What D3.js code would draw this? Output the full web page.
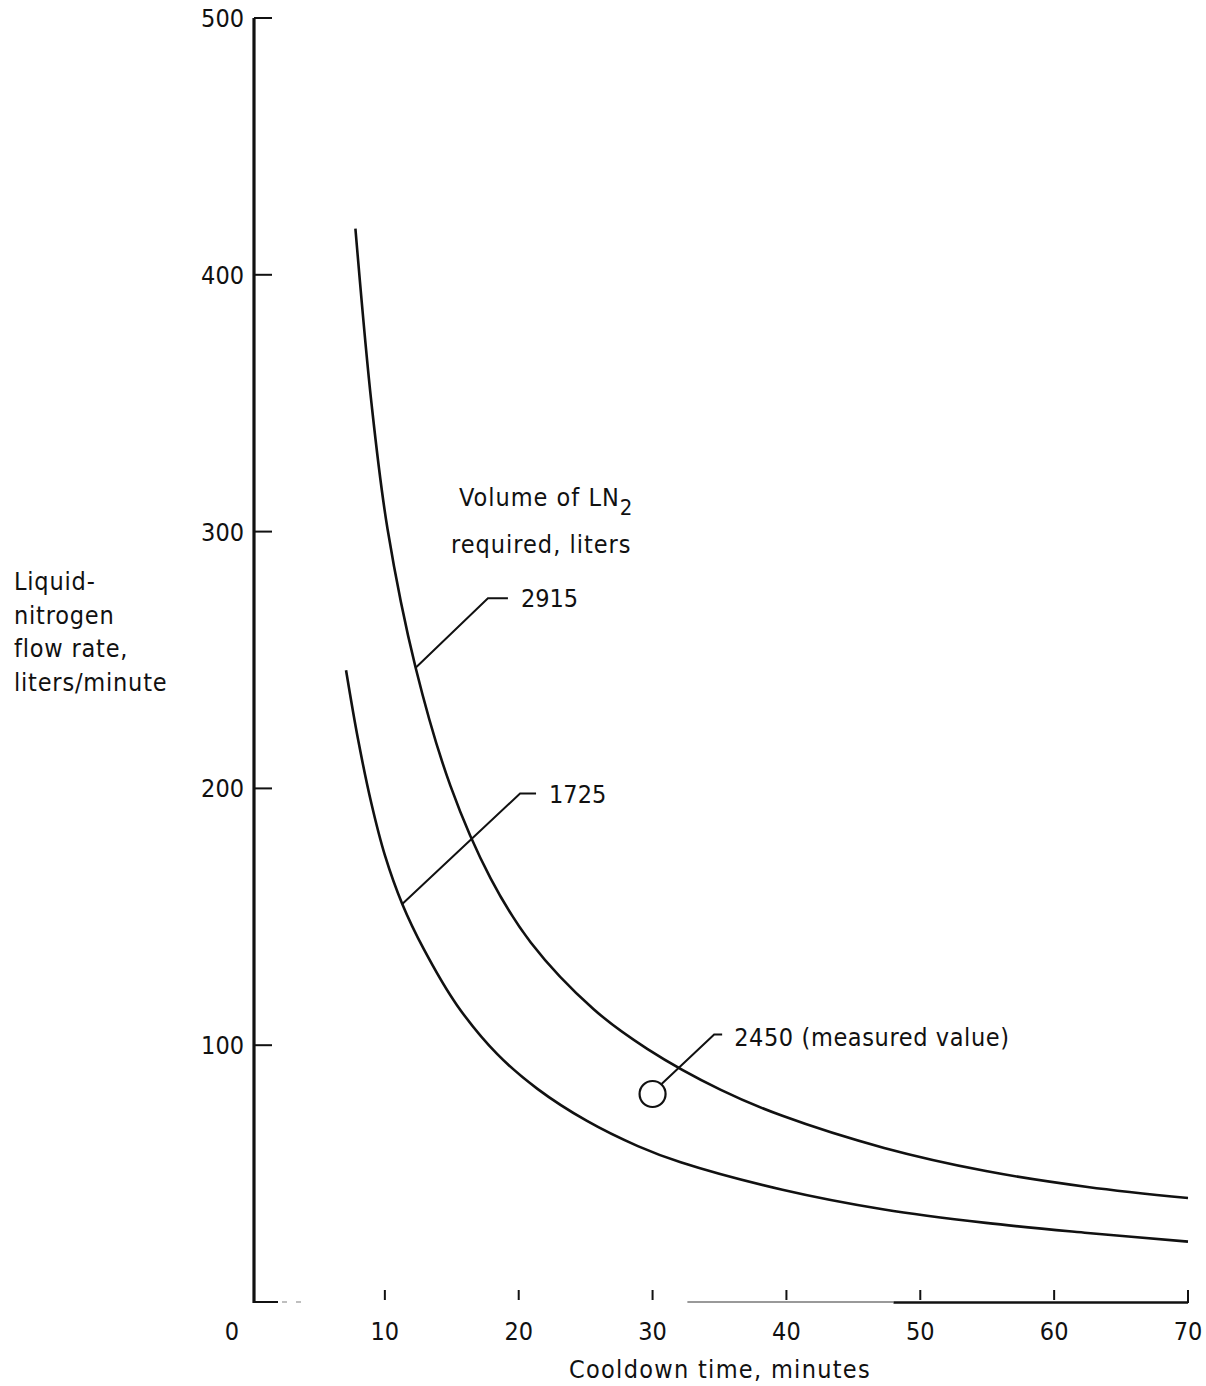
<!DOCTYPE html>
<html>
<head>
<meta charset="utf-8">
<script src="https://cdn.jsdelivr.net/npm/d3@7"></script>
<style>
  html, body { margin: 0; padding: 0; background: #fff; }
  svg { display: block; }
  text { font-family: "Liberation Sans Narrow", "DejaVu Sans Condensed", "Liberation Sans", sans-serif; fill: #111; }
</style>
</head>
<body>
<svg id="chart" width="1206" height="1386"></svg>
<script>
// Cooldown time (minutes) and LN2 flow rate (liters/minute) along each constant-volume curve
const curve2915Time = [7.8, 9.0, 10.2, 12.3, 14.9, 17.9, 20.9, 25.6, 29.6, 35.1, 39.7, 47.3, 54.9, 62.5, 70];
const curve2915Flow = [418, 350, 301, 247, 201, 165, 140, 114, 98.6, 82.6, 72.5, 60, 51, 44.8, 40.5];
const curve1725Time = [7.1, 8.0, 9.0, 10.0, 11.3, 12.9, 15.4, 18.4, 21.4, 25.1, 28.9, 32.1, 39.7, 47.3, 54.9, 62.5, 70];
const curve1725Flow = [246, 219, 194, 174, 155, 137.5, 115.5, 96.5, 83, 70.5, 60.7, 54.4, 43.7, 36, 30.8, 26.9, 23.5];
const curveLabels = ["2915", "1725"];

// Measured cooldown
const measuredTime = [30];
const measuredFlow = [81];
const measuredLabel = "2450 (measured value)";

// Axis ticks
const xTicks = [0, 10, 20, 30, 40, 50, 60, 70];
const yTicks = [100, 200, 300, 400, 500];

const svg = d3.select("#chart");
const x = d3.scaleLinear().domain([0, 70]).range([251, 1188]);
const y = d3.scaleLinear().domain([0, 500]).range([1302, 18]);
const axisX = 254;

const ink = "#111";

// Y axis line with inward ticks
svg.append("line")
  .attr("x1", axisX).attr("x2", axisX)
  .attr("y1", y(0) + 1).attr("y2", y(500))
  .attr("stroke", ink).attr("stroke-width", 3.2);
svg.selectAll("line.ytick").data(yTicks).join("line")
  .attr("class", "ytick")
  .attr("x1", axisX).attr("x2", axisX + 18)
  .attr("y1", d => y(d)).attr("y2", d => y(d))
  .attr("stroke", ink).attr("stroke-width", 2);
svg.selectAll("text.ylab").data(yTicks).join("text")
  .attr("class", "ylab")
  .attr("x", axisX - 10).attr("y", d => y(d) + 9)
  .attr("text-anchor", "end")
  .attr("font-size", 25)
  .text(d => d);

// X axis: short solid stub at the origin, faded dashes, then the right-hand run
svg.append("line")
  .attr("x1", axisX).attr("x2", axisX + 24)
  .attr("y1", y(0)).attr("y2", y(0))
  .attr("stroke", ink).attr("stroke-width", 2);
svg.append("line")
  .attr("x1", axisX + 28).attr("x2", axisX + 52)
  .attr("y1", y(0)).attr("y2", y(0))
  .attr("stroke", "#aaa").attr("stroke-width", 1.5)
  .attr("stroke-dasharray", "5,9");
svg.append("line")
  .attr("x1", x(32.6)).attr("x2", x(48))
  .attr("y1", y(0)).attr("y2", y(0))
  .attr("stroke", "#777").attr("stroke-width", 1.6);
svg.append("line")
  .attr("x1", x(48)).attr("x2", x(70))
  .attr("y1", y(0) + 0.5).attr("y2", y(0) + 0.5)
  .attr("stroke", ink).attr("stroke-width", 2.4);

svg.selectAll("line.xtick").data(xTicks.filter(d => d > 0)).join("line")
  .attr("class", "xtick")
  .attr("x1", d => x(d)).attr("x2", d => x(d))
  .attr("y1", y(0) - 12).attr("y2", d => d === 70 ? y(0) + 1 : y(0) - 2)
  .attr("stroke", ink).attr("stroke-width", 2);
svg.selectAll("text.xlab").data(xTicks).join("text")
  .attr("class", "xlab")
  .attr("x", d => d === 0 ? x(0) - 19 : x(d))
  .attr("y", y(0) + 38)
  .attr("text-anchor", "middle")
  .attr("font-size", 25)
  .text(d => d);

// Axis titles
svg.append("text")
  .attr("x", 720).attr("y", 1378)
  .attr("text-anchor", "middle")
  .attr("font-size", 25)
  .attr("letter-spacing", 1.3)
  .text("Cooldown time, minutes");

const yTitle = ["Liquid-", "nitrogen", "flow rate,", "liters/minute"];
svg.append("text")
  .attr("font-size", 25)
  .attr("letter-spacing", 0.8)
  .selectAll("tspan").data(yTitle).join("tspan")
  .attr("x", 14)
  .attr("y", (d, i) => 590 + i * 33.5)
  .text(d => d);

// Curves
const line = d3.line()
  .x(d => x(d[0])).y(d => y(d[1]))
  .curve(d3.curveCatmullRom.alpha(0.5));

const series = [
  d3.zip(curve2915Time, curve2915Flow),
  d3.zip(curve1725Time, curve1725Flow)
];
svg.selectAll("path.curve").data(series).join("path")
  .attr("class", "curve")
  .attr("d", line)
  .attr("fill", "none")
  .attr("stroke", ink)
  .attr("stroke-width", 2.6)
  .attr("stroke-linecap", "butt");

// Legend heading
const head = svg.append("text")
  .attr("x", 459).attr("y", 506)
  .attr("font-size", 25)
  .attr("letter-spacing", 1);
head.append("tspan").text("Volume of LN");
head.append("tspan").attr("dy", 9).attr("font-size", 22).text("2");
svg.append("text")
  .attr("x", 451).attr("y", 553)
  .attr("font-size", 25)
  .attr("letter-spacing", 1)
  .text("required, liters");

// Leader callouts: from a point on the curve up to an elbow, then a short run to the label
const leaders = [
  { label: curveLabels[0], from: [12.3, 247], elbow: [17.7, 274], run: 20 },
  { label: curveLabels[1], from: [11.3, 155], elbow: [20.1, 198], run: 16 }
];
leaders.forEach(l => {
  const ex = x(l.elbow[0]), ey = y(l.elbow[1]);
  svg.append("path")
    .attr("d", `M${x(l.from[0])},${y(l.from[1])}L${ex},${ey}H${ex + l.run}`)
    .attr("fill", "none").attr("stroke", ink).attr("stroke-width", 2);
  svg.append("text")
    .attr("x", ex + l.run + 13).attr("y", ey + 9)
    .attr("font-size", 25)
    .text(l.label);
});

// Measured point
const mx = x(measuredTime[0]), my = y(measuredFlow[0]);
svg.append("circle")
  .attr("cx", mx).attr("cy", my).attr("r", 13)
  .attr("fill", "none").attr("stroke", ink).attr("stroke-width", 2.2);
const mex = x(34.6), mey = y(104.2);
svg.append("path")
  .attr("d", `M${mx + 9},${my - 10}L${mex},${mey}H${mex + 8}`)
  .attr("fill", "none").attr("stroke", ink).attr("stroke-width", 2);
svg.append("text")
  .attr("x", mex + 20).attr("y", mey + 12)
  .attr("font-size", 25)
  .attr("letter-spacing", 0.6)
  .text(measuredLabel);
</script>
</body>
</html>
